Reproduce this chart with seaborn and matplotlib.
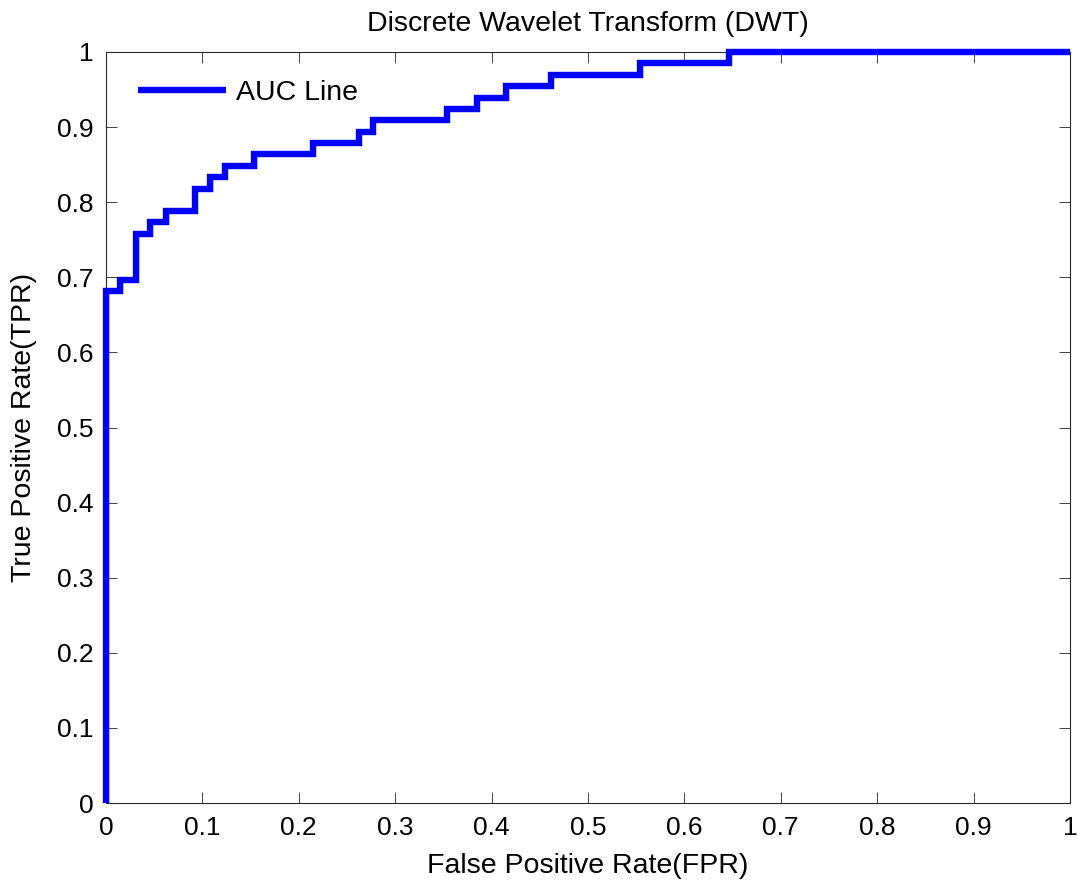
import seaborn as sns
import matplotlib
matplotlib.use('Agg')
import matplotlib.pyplot as plt
import numpy as np

# ROC corner points
fpr = [0, 0, 0.015, 0.031, 0.046, 0.062, 0.092, 0.108, 0.123, 0.154, 0.215,
       0.262, 0.277, 0.354, 0.385, 0.415, 0.462, 0.554, 0.646, 1.0]
tpr = [0, 0.682, 0.697, 0.758, 0.773, 0.788, 0.818, 0.833, 0.848, 0.864, 0.879,
       0.894, 0.909, 0.924, 0.939, 0.955, 0.970, 0.985, 1.0, 1.0]
ticks = [0, 0.1, 0.2, 0.3, 0.4, 0.5, 0.6, 0.7, 0.8, 0.9, 1]
tick_labels = ['0', '0.1', '0.2', '0.3', '0.4', '0.5', '0.6', '0.7', '0.8', '0.9', '1']

sns.set_style('ticks')
plt.rcParams['font.family'] = ['Liberation Sans', 'DejaVu Sans']
plt.rcParams['text.color'] = 'black'
plt.rcParams['axes.labelcolor'] = 'black'

fig = plt.figure(figsize=(10.78, 8.84), dpi=100)
ax = fig.add_axes([0.0983, 0.0916, 0.8943, 0.8496])

sns.lineplot(x=fpr, y=tpr, ax=ax, drawstyle='steps-post', sort=False,
             estimator=None, color='#0000ff', linewidth=4.6,
             solid_capstyle='butt', solid_joinstyle='miter',
             label='AUC Line', clip_on=False, zorder=3)

ax.set_xlim(0, 1)
ax.set_ylim(0, 1)
ax.set_xticks(ticks)
ax.set_xticklabels(tick_labels)
ax.set_yticks(ticks)
ax.set_yticklabels(tick_labels)
ax.tick_params(direction='in', length=8, width=0.6, labelsize=19, pad=9,
               top=True, right=True, colors='#262626', labelcolor='black')
for s in ax.spines.values():
    s.set_visible(True)
    s.set_linewidth(0.8)
    s.set_color('#262626')

ax.set_title('Discrete Wavelet Transform (DWT)', fontsize=20.5, pad=15, color='black')
ax.set_xlabel('False Positive Rate(FPR)', fontsize=20.5, labelpad=10)
ax.set_ylabel('True Positive Rate(TPR)', fontsize=20.5, labelpad=14)

ax.legend(loc='center left', bbox_to_anchor=(0.033, 0.945), frameon=False,
          fontsize=20.5, handlelength=3.1, handletextpad=0.35,
          borderpad=0, borderaxespad=0)

plt.savefig('out.png', dpi=100)
